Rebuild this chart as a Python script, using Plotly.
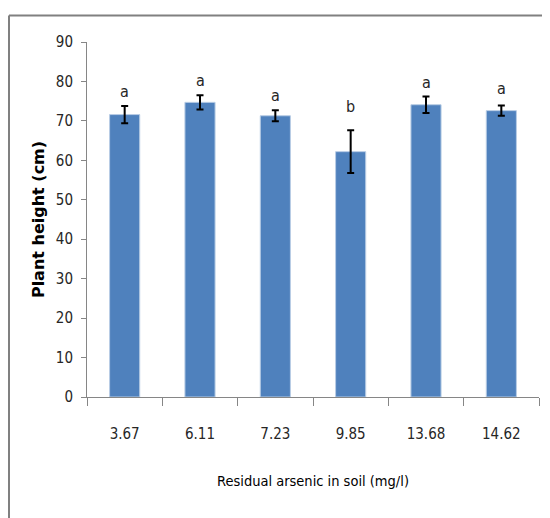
import plotly.graph_objects as go

categories = ["3.67", "6.11", "7.23", "9.85", "13.68", "14.62"]
heights = [71.6, 74.7, 71.3, 62.2, 74.1, 72.6]
errors = [2.2, 1.8, 1.4, 5.4, 2.1, 1.3]
letters = ["a", "a", "a", "b", "a", "a"]
label_shift = [14, 15, 15, 24, 14, 17]

FONT = "DejaVu Sans Condensed, Liberation Sans Narrow, Lato, sans-serif"

fig = go.Figure()
fig.add_trace(go.Bar(
    x=categories, y=heights,
    marker=dict(color="#4F81BD", line=dict(color="#B9CDE5", width=1)),
    error_y=dict(type="data", array=errors, visible=True, color="black",
                 thickness=2, width=3.5),
    width=0.4,
))

for i, (h, e, t, s) in enumerate(zip(heights, errors, letters, label_shift)):
    fig.add_annotation(x=i, y=h + e, text=t, showarrow=False, yshift=s,
                       font=dict(family=FONT, size=16, color="#262626"),
                       xanchor="center", yanchor="middle")

fig.update_layout(
    width=550, height=518,
    margin=dict(l=79, r=19, t=33.5, b=129),
    paper_bgcolor="white", plot_bgcolor="white",
    showlegend=False,
    xaxis=dict(
        type="category", range=[-0.5, 5.5],
        showline=True, linecolor="#868686", linewidth=1,
        ticks="outside", ticklen=8, tickcolor="#868686", tickson="boundaries",
        ticklabelstandoff=23,
        tickfont=dict(family=FONT, size=15, color="#262626"),
        title=dict(text="Residual arsenic in soil (mg/l)", standoff=33,
                   font=dict(family=FONT, size=14.5, color="black")),
        showgrid=False,
    ),
    yaxis=dict(
        range=[0, 90], dtick=10, showline=True, linecolor="#868686", linewidth=1,
        ticks="outside", ticklen=5, tickcolor="#868686",
        ticklabelstandoff=5,
        tickfont=dict(family=FONT, size=15, color="#262626"),
        title=dict(text="<b>Plant height (cm)</b>", standoff=7,
                   font=dict(family="DejaVu Sans, sans-serif", size=16, color="black")),
        showgrid=False, zeroline=False,
    ),
    shapes=[
        dict(type="line", xref="paper", yref="paper",
             x0=-78/452, x1=1.1, y0=1 + 26.5/355.5, y1=1 + 26.5/355.5,
             line=dict(color="#808080", width=2)),
        dict(type="line", xref="paper", yref="paper",
             x0=-78/452, x1=-78/452, y0=1 + 26.5/355.5, y1=-0.5,
             line=dict(color="#808080", width=2)),
    ],
)

fig.write_html("out.html")
